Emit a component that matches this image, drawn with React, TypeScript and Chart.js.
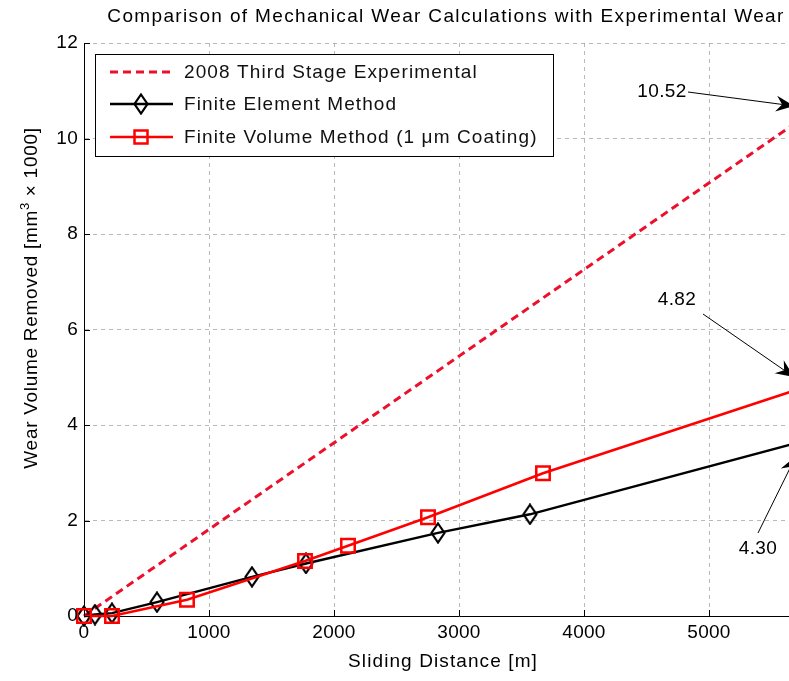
import React, { useEffect, useRef } from 'react';
import { Chart, registerables } from 'chart.js';

Chart.register(...registerables);

// Sliding distance [m] and wear volume [mm^3 x 1000] for each series
const expDistance = [0, 5800];
const expWear = [0, 10.52];

const femDistance = [0, 88, 224, 584, 1344, 1776, 2832, 3568, 6670];
const femWear = [0, 0.03, 0.06, 0.29, 0.82, 1.1, 1.74, 2.13, 4.3];

const fvmDistance = [0, 224, 824, 1768, 2112, 2752, 3672, 5800];
const fvmWear = [0, 0, 0.34, 1.15, 1.47, 2.07, 2.99, 4.82];

const seriesNames = [
  '2008 Third Stage Experimental',
  'Finite Element Method',
  'Finite Volume Method (1 \u03bcm Coating)',
];

const xTickValues = [0, 1000, 2000, 3000, 4000, 5000, 6000];
const yTickValues = [0, 2, 4, 6, 8, 10, 12];

const titleText = 'Comparison of Mechanical Wear Calculations with Experimental Wear';
const xTitle = 'Sliding Distance [m]';

const FONT = "'Liberation Sans', Arial, Helvetica, sans-serif";
const RED = 'rgb(255,0,0)';
const DASH_RED = 'rgb(236,16,44)';

const CANVAS_W = 860;
const CANVAS_H = 681;

function makeDiamond(): HTMLCanvasElement {
  const c = document.createElement('canvas');
  c.width = 16;
  c.height = 22;
  const g = c.getContext('2d')!;
  g.strokeStyle = '#000';
  g.lineWidth = 2.2;
  g.beginPath();
  g.moveTo(8, 1.5);
  g.lineTo(14.5, 11);
  g.lineTo(8, 20.5);
  g.lineTo(1.5, 11);
  g.closePath();
  g.stroke();
  return c;
}

function toPoints(xs: number[], ys: number[]) {
  return xs.map((x, i) => ({ x, y: ys[i] }));
}

// Value callouts: label placement and arrow geometry in canvas pixels
const callouts = [
  { value: expWear[expWear.length - 1], labelX: 662, labelY: 92, tailX: 688, tailY: 92, tipX: 794, tipY: 106 },
  { value: fvmWear[fvmWear.length - 1], labelX: 677, labelY: 300, tailX: 703, tailY: 314, tipX: 794, tipY: 377 },
  { value: femWear[femWear.length - 1], labelX: 758, labelY: 549, tailX: 758, tailY: 533, tipX: 796, tipY: 456 },
];

function drawArrowHead(ctx: CanvasRenderingContext2D, x0: number, y0: number, x1: number, y1: number) {
  const ang = Math.atan2(y1 - y0, x1 - x0);
  const len = 18;
  const half = 8;
  const notch = 12;
  const ca = Math.cos(ang);
  const sa = Math.sin(ang);
  const bx = x1 - len * ca;
  const by = y1 - len * sa;
  const nx = x1 - notch * ca;
  const ny = y1 - notch * sa;
  ctx.beginPath();
  ctx.moveTo(x1, y1);
  ctx.lineTo(bx - half * sa, by + half * ca);
  ctx.lineTo(nx, ny);
  ctx.lineTo(bx + half * sa, by - half * ca);
  ctx.closePath();
  ctx.fill();
}

function setSpacing(ctx: CanvasRenderingContext2D, px: number) {
  (ctx as any).letterSpacing = `${px}px`;
}

export default function App() {
  const ref = useRef<HTMLCanvasElement | null>(null);

  useEffect(() => {
    const canvas = ref.current;
    if (!canvas) return;
    const diamond = makeDiamond();

    const decor = {
      id: 'decor',
      afterDraw(chart: any) {
        const { ctx, chartArea, scales } = chart;
        const xs = scales.x;
        const ys = scales.y;
        ctx.save();

        // inward tick marks
        ctx.strokeStyle = '#000';
        ctx.lineWidth = 1;
        ctx.beginPath();
        yTickValues.forEach((v) => {
          const y = Math.round(ys.getPixelForValue(v)) + 0.5;
          ctx.moveTo(chartArea.left, y);
          ctx.lineTo(chartArea.left + 6, y);
        });
        xTickValues.forEach((v) => {
          const x = Math.round(xs.getPixelForValue(v)) + 0.5;
          ctx.moveTo(x, chartArea.bottom);
          ctx.lineTo(x, chartArea.bottom - 6);
        });
        ctx.stroke();

        // tick labels
        ctx.fillStyle = '#000';
        ctx.font = `19px ${FONT}`;
        setSpacing(ctx, 0.3);
        ctx.textBaseline = 'middle';
        ctx.textAlign = 'right';
        yTickValues.forEach((v) => {
          ctx.fillText(String(v), chartArea.left - 6, ys.getPixelForValue(v));
        });
        ctx.textAlign = 'center';
        xTickValues.forEach((v) => {
          ctx.fillText(String(v), xs.getPixelForValue(v), chartArea.bottom + 17);
        });

        // title
        ctx.font = `19px ${FONT}`;
        setSpacing(ctx, 1.35);
        ctx.fillText(titleText, 446, 17);

        // x axis title
        setSpacing(ctx, 1.1);
        ctx.fillText(xTitle, 443, 662);

        // y axis title with superscript
        ctx.save();
        ctx.translate(32, 298);
        ctx.rotate(-Math.PI / 2);
        const a = 'Wear Volume Removed [mm';
        const sup = '3';
        const b = ' \u00d7 1000]';
        setSpacing(ctx, 0.7);
        ctx.font = `19px ${FONT}`;
        const wa = ctx.measureText(a).width;
        const wb = ctx.measureText(b).width;
        ctx.font = `13px ${FONT}`;
        const ws = ctx.measureText(sup).width;
        const total = wa + ws + wb;
        let px = -total / 2;
        ctx.textAlign = 'left';
        ctx.font = `19px ${FONT}`;
        ctx.fillText(a, px, 0);
        px += wa;
        ctx.font = `13px ${FONT}`;
        ctx.fillText(sup, px, -7);
        px += ws;
        ctx.font = `19px ${FONT}`;
        ctx.fillText(b, px, 0);
        ctx.restore();

        // callouts
        ctx.font = `19px ${FONT}`;
        setSpacing(ctx, 0.4);
        ctx.textAlign = 'center';
        ctx.fillStyle = '#000';
        ctx.strokeStyle = '#000';
        ctx.lineWidth = 1;
        callouts.forEach((c) => {
          ctx.fillText(c.value.toFixed(2), c.labelX, c.labelY);
          ctx.beginPath();
          ctx.moveTo(c.tailX, c.tailY);
          ctx.lineTo(c.tipX, c.tipY);
          ctx.stroke();
          drawArrowHead(ctx, c.tailX, c.tailY, c.tipX, c.tipY);
        });

        // legend
        const lx = 95.5;
        const ly = 54.5;
        const lw = 458;
        const lh = 102;
        ctx.fillStyle = '#fff';
        ctx.fillRect(lx, ly, lw, lh);
        ctx.strokeStyle = '#000';
        ctx.lineWidth = 1;
        ctx.strokeRect(lx, ly, lw, lh);
        const rows = [72, 104, 137];
        ctx.textAlign = 'left';
        ctx.textBaseline = 'middle';
        ctx.font = `19px ${FONT}`;
        setSpacing(ctx, 1.1);
        rows.forEach((ry, i) => {
          ctx.save();
          if (i === 0) {
            ctx.strokeStyle = DASH_RED;
            ctx.lineWidth = 3;
            ctx.setLineDash([8, 5]);
          } else if (i === 1) {
            ctx.strokeStyle = '#000';
            ctx.lineWidth = 2.5;
          } else {
            ctx.strokeStyle = RED;
            ctx.lineWidth = 2.5;
          }
          ctx.beginPath();
          ctx.moveTo(110, ry);
          ctx.lineTo(173, ry);
          ctx.stroke();
          ctx.setLineDash([]);
          if (i === 1) {
            ctx.drawImage(diamond, 141 - diamond.width / 2, ry - diamond.height / 2);
          } else if (i === 2) {
            ctx.lineWidth = 2.5;
            ctx.strokeRect(141 - 6.5, ry - 6.5, 13, 13);
          }
          ctx.restore();
          ctx.fillStyle = '#111';
          ctx.fillText(seriesNames[i], 184, ry + 1);
        });

        ctx.restore();
      },
    };

    const chart = new Chart(canvas, {
      type: 'line',
      data: {
        datasets: [
          {
            label: seriesNames[2],
            data: toPoints(fvmDistance, fvmWear),
            borderColor: RED,
            borderWidth: 2.6,
            pointStyle: 'rect',
            pointRadius: 9.5,
            pointBorderWidth: 2.5,
            pointBorderColor: RED,
            pointBackgroundColor: 'rgba(0,0,0,0)',
            backgroundColor: 'rgba(0,0,0,0)',
            tension: 0,
            clip: false as any,
            order: 0,
          },
          {
            label: seriesNames[1],
            data: toPoints(femDistance, femWear),
            borderColor: '#000',
            borderWidth: 2.4,
            pointStyle: diamond as any,
            pointRadius: 9,
            backgroundColor: 'rgba(0,0,0,0)',
            tension: 0,
            clip: false as any,
            order: 1,
          },
          {
            label: seriesNames[0],
            data: toPoints(expDistance, expWear),
            borderColor: DASH_RED,
            borderWidth: 3,
            borderDash: [8, 5],
            pointRadius: 0,
            backgroundColor: 'rgba(0,0,0,0)',
            tension: 0,
            clip: false as any,
            order: 2,
          },
        ],
      },
      options: {
        responsive: false,
        animation: false,
        devicePixelRatio: 1,
        layout: { padding: { top: 43, left: 0, right: CANVAS_W - 834, bottom: 0 } },
        plugins: {
          legend: { display: false },
          title: { display: false },
          tooltip: { enabled: false },
        },
        scales: {
          x: {
            type: 'linear',
            min: 0,
            max: 6000,
            afterFit: (s: any) => {
              s.height = 65;
            },
            afterBuildTicks: (s: any) => {
              s.ticks = xTickValues.map((v) => ({ value: v }));
            },
            ticks: { display: false },
            grid: { color: 'rgba(160,160,160,0.75)', lineWidth: 1, drawTicks: false },
            border: { display: true, color: '#000', width: 1, dash: [4, 4] },
          },
          y: {
            type: 'linear',
            min: 0,
            max: 12,
            afterFit: (s: any) => {
              s.width = 84;
            },
            afterBuildTicks: (s: any) => {
              s.ticks = yTickValues.map((v) => ({ value: v }));
            },
            ticks: { display: false },
            grid: { color: 'rgba(160,160,160,0.75)', lineWidth: 1, drawTicks: false },
            border: { display: true, color: '#000', width: 1, dash: [4, 4] },
          },
        },
      } as any,
      plugins: [decor],
    });

    return () => chart.destroy();
  }, []);

  return (
    <div
      style={{
        position: 'absolute',
        left: 0,
        top: 0,
        width: 789,
        height: 681,
        overflow: 'hidden',
        background: '#fff',
      }}
    >
      <canvas ref={ref} width={CANVAS_W} height={CANVAS_H} style={{ display: 'block' }} />
    </div>
  );
}
